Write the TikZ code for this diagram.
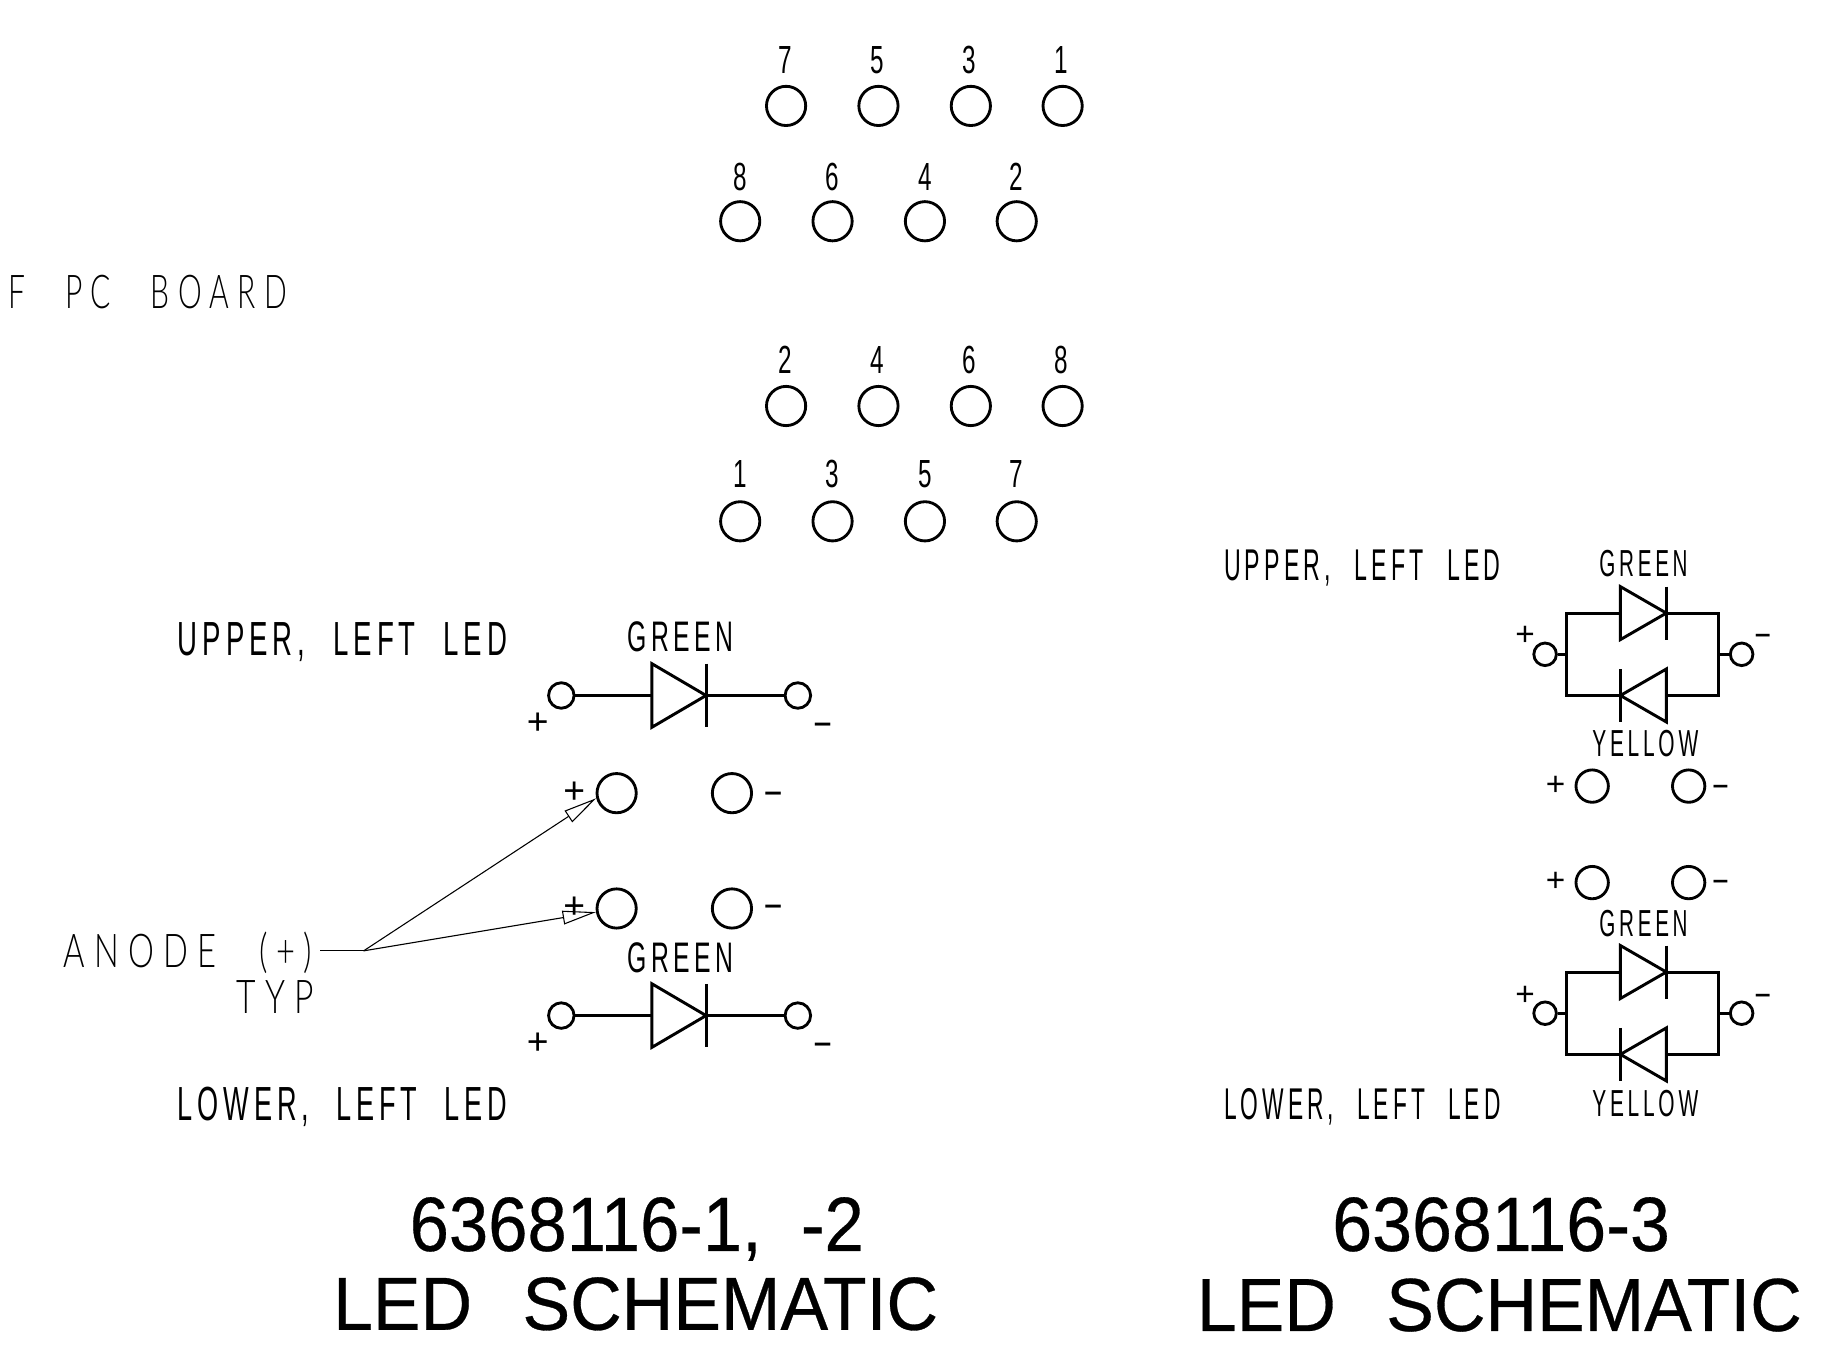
\documentclass[tikz,border=0pt]{standalone}
\usepackage{fontspec}
\usepackage{graphicx}
\usetikzlibrary{arrows.meta}
\setmainfont{Liberation Sans}
\newfontfamily\cadfont[LetterSpace=18,WordSpace=2.2]{Liberation Sans}
\newfontfamily\cadthin[LetterSpace=28,WordSpace=2.4]{Lato Light}
\newfontfamily\titlefont[FakeBold=0.4]{Liberation Sans}
\newlength\cadw
\newlength\cadh
% name, x0, x1, ytop, ybot, font, text
\newcommand\fittext[7]{%
  \node[anchor=base west,inner sep=0pt,text=black] (#1) at (#2-1.2,#5-1)
    {\settowidth\cadw{\fontsize{20}{20}\selectfont#6#7}%
     \settoheight\cadh{\fontsize{20}{20}\selectfont#6H}%
     \pgfmathsetmacro\sxx{(#3-#2)*0.6/(\cadw/1pt)}%
     \pgfmathsetmacro\syy{(#5-#4)*0.6/(\cadh/1pt)}%
     \scalebox{\sxx}[\syy]{\fontsize{20}{20}\selectfont#6#7}};%
}
\newcommand\digitlab[4]{\node[digitstyle] (#1) at (#2,#3) {\scalebox{.62}[1]{#4}};}
\newcommand\diode[5]{% name, xbase, xapex, yc, half
  \draw[wire,line join=miter] (#2,#4-#5) -- (#2,#4+#5) -- (#3,#4) -- cycle;
  \draw[wire] (#3,#4-#5) -- (#3,#4+#5);
  \coordinate (#1-b) at (#2,#4);
  \coordinate (#1-k) at (#3,#4);
}
\tikzset{
  x=0.6pt,y=-0.6pt,
  wire/.style={line width=1.5pt},
  pad/.style={circle,draw,line width=1.45pt,minimum size=20pt,inner sep=0pt},
  padm/.style={circle,draw,line width=1.45pt,minimum size=16.5pt,inner sep=0pt},
  term/.style={circle,draw,line width=1.45pt,minimum size=13pt,inner sep=0pt},
  terms/.style={circle,draw,line width=1.45pt,minimum size=11.5pt,inner sep=0pt},
  digitstyle/.style={inner sep=0pt,font=\fontsize{20}{20}\selectfont},
  sign/.style={inner sep=0pt,font=\fontsize{19}{19}\selectfont},
  signs/.style={inner sep=0pt,font=\fontsize{17}{17}\selectfont},
  leader/.style={line width=0.55pt},
  tiparrow/.style={-{Triangle[open,length=17pt,width=7pt]}},
}
\newcommand\minussign[3]{\node[sign,yshift=-2.4pt] (#1) at (#2,#3) {\scalebox{1.7}[1]{-}};}
\newcommand\minussmall[3]{\node[signs,yshift=-2.2pt] (#1) at (#2,#3) {\scalebox{1.7}[1]{-}};}
\begin{document}
\begin{tikzpicture}
\useasboundingbox (0,0) rectangle (1567,1147.2);
\fill[white] (0,0) rectangle (1567,1147.2);
% connector pads
\foreach \n/\x/\l in {a/668/7,b/746.5/5,c/825/3,d/903/1}{
  \node[pad] (r1\n) at (\x,90) {};
  \digitlab{l1\n}{\x-1}{51}{\l}
}
\foreach \n/\x/\l in {a/629/8,b/707.5/6,c/786/4,d/864/2}{
  \node[pad] (r2\n) at (\x,188) {};
  \digitlab{l2\n}{\x}{150}{\l}
}
\foreach \n/\x/\l in {a/668/2,b/746.5/4,c/825/6,d/903/8}{
  \node[pad] (r3\n) at (\x,345) {};
  \digitlab{l3\n}{\x-1}{306}{\l}
}
\foreach \n/\x/\l in {a/629/1,b/707.5/3,c/786/5,d/864/7}{
  \node[pad] (r4\n) at (\x,443) {};
  \digitlab{l4\n}{\x}{403}{\l}
}
\fittext{pcb}{8}{245}{235}{263}{\cadthin}{F PC BOARD}
% left schematic
\fittext{ul1}{152}{432}{530}{558}{\cadfont}{UPPER, LEFT LED}
\fittext{g1}{534}{624}{530}{555}{\cadfont}{GREEN}
\node[term] (t1) at (477,591) {};
\node[term] (t2) at (678,591) {};
\diode{d1}{554}{600}{591}{27}
\draw[wire] (t1) -- (d1-b);
\draw[wire] (d1-k) -- (t2);
\node[sign] (p1) at (457,615) {+};
\minussign{m1}{699}{615}
\node[pad] (c1) at (524,674) {};
\node[pad] (c2) at (622,674) {};
\node[sign] (p2) at (488,674) {+};
\minussign{m2}{657}{674}
\node[pad] (c3) at (524,772) {};
\node[pad] (c4) at (622,772) {};
\node[sign] (p3) at (488,771) {+};
\minussign{m3}{657}{770}
\fittext{g2}{534}{624}{802}{827}{\cadfont}{GREEN}
\node[term] (t3) at (477,863) {};
\node[term] (t4) at (678,863) {};
\diode{d2}{554}{600}{863}{27}
\draw[wire] (t3) -- (d2-b);
\draw[wire] (d2-k) -- (t4);
\node[sign] (p4) at (457,887) {+};
\minussign{m4}{699}{887}
\fittext{ll1}{152}{432}{925}{953}{\cadfont}{LOWER, LEFT LED}
\fittext{an}{55}{266}{795}{823}{\cadthin}{ANODE (\hspace{.25em}+\hspace{.25em})}
\fittext{ty}{202}{268}{834}{862}{\cadthin}{TYP}
\coordinate (lead0) at (272,808);
\coordinate (lead1) at (309,808);
\draw[leader] (lead0) -- (lead1);
\draw[leader,tiparrow] (lead1) -- (c1.194);
\draw[leader,tiparrow] (lead1) -- (c3.190);
% right schematic
\fittext{ul2}{1041}{1276}{468}{494}{\cadfont}{UPPER, LEFT LED}
\fittext{g3}{1360}{1435}{469}{491}{\cadfont}{GREEN}
\diode{d3}{1377}{1416}{521}{22.5}
\diode{d4}{1416}{1377}{591}{22.5}
\node[terms] (t5) at (1313,556) {};
\node[terms] (t6) at (1480,556) {};
\coordinate (j1) at (1331,556);
\coordinate (j2) at (1460,556);
\draw[wire] (t5) -- (j1);
\draw[wire] (j2) -- (t6);
\draw[wire] (d3-b) -| (j1) |- (d4-k);
\draw[wire] (d3-k) -| (j2) |- (d4-b);
\node[signs] (p5) at (1296,540) {+};
\minussmall{m5}{1498}{540}
\fittext{y1}{1354}{1444}{622}{644}{\cadfont}{YELLOW}
\node[padm] (c5) at (1353,668) {};
\node[padm] (c6) at (1435,668) {};
\node[signs] (p6) at (1322,668) {+};
\minussmall{m6}{1462}{668}
\node[padm] (c7) at (1353,750) {};
\node[padm] (c8) at (1435,750) {};
\node[signs] (p7) at (1322,749) {+};
\minussmall{m7}{1462}{749}
\fittext{g4}{1360}{1435}{775}{797}{\cadfont}{GREEN}
\diode{d5}{1377}{1416}{826}{22.5}
\diode{d6}{1416}{1377}{896}{22.5}
\node[terms] (t7) at (1313,861) {};
\node[terms] (t8) at (1480,861) {};
\coordinate (j3) at (1331,861);
\coordinate (j4) at (1460,861);
\draw[wire] (t7) -- (j3);
\draw[wire] (j4) -- (t8);
\draw[wire] (d5-b) -| (j3) |- (d6-k);
\draw[wire] (d5-k) -| (j4) |- (d6-b);
\node[signs] (p8) at (1296,846) {+};
\minussmall{m8}{1498}{846}
\fittext{y2}{1354}{1444}{928}{950}{\cadfont}{YELLOW}
\fittext{ll2}{1041}{1276}{926}{952}{\cadfont}{LOWER, LEFT LED}
% titles
\fittext{t1a}{349}{735}{1019}{1064}{\titlefont}{6368116-1,\ \ -2}
\fittext{t1b}{284}{798}{1087}{1131}{\titlefont}{LED\ \ \hspace{.15em}SCHEMATIC}
\fittext{t2a}{1133}{1420}{1019}{1064}{\titlefont}{6368116-3}
\fittext{t2b}{1018}{1532}{1088}{1132}{\titlefont}{LED\ \ \hspace{.15em}SCHEMATIC}
\end{tikzpicture}
\end{document}
